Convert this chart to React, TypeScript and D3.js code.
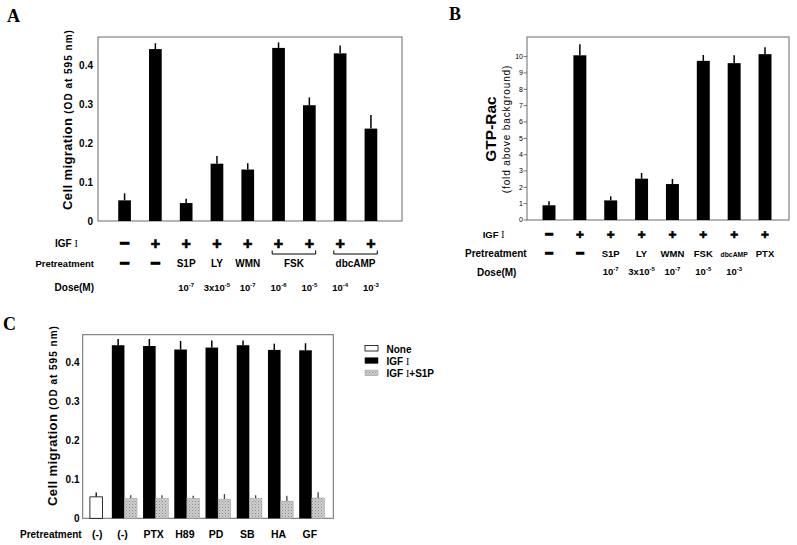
import React from 'react';
import * as d3 from 'd3';

const FONT = '"Liberation Sans", Arial, Helvetica, sans-serif';

// ---------- Panel A ----------
const aValues = [0.053, 0.441, 0.046, 0.147, 0.132, 0.444, 0.297, 0.43, 0.237];
const aErrors = [0.018, 0.015, 0.011, 0.02, 0.016, 0.014, 0.02, 0.02, 0.035];
const aIgf = ['−', '+', '+', '+', '+', '+', '+', '+', '+'];
const aPretreat = ['−', '−', 'S1P', 'LY', 'WMN', '', '', '', ''];
const aGroups = [
  { label: 'FSK', from: 5, to: 6 },
  { label: 'dbcAMP', from: 7, to: 8 },
];
const aDoseBase = ['', '', '10', '3x10', '10', '10', '10', '10', '10'];
const aDoseExp = ['', '', '-7', '-5', '-7', '-6', '-5', '-4', '-3'];
const aTicks = [0, 0.1, 0.2, 0.3, 0.4];
const aTickLabels = ['0', '0.1', '0.2', '0.3', '0.4'];

// ---------- Panel B ----------
const bValues = [0.9, 10.08, 1.2, 2.53, 2.2, 9.74, 9.6, 10.15];
const bErrors = [0.24, 0.68, 0.25, 0.35, 0.31, 0.36, 0.48, 0.43];
const bIgf = ['−', '+', '+', '+', '+', '+', '+', '+'];
const bPretreat = ['−', '−', 'S1P', 'LY', 'WMN', 'FSK', 'dbcAMP', 'PTX'];
const bDoseBase = ['', '', '10', '3x10', '10', '10', '10', ''];
const bDoseExp = ['', '', '-7', '-5', '-7', '-5', '-3', ''];
const bTicks = [0, 1, 2, 3, 4, 5, 6, 7, 8, 9, 10];

// ---------- Panel C ----------
const cGroups = ['(-)', '(-)', 'PTX', 'H89', 'PD', 'SB', 'HA', 'GF'];
const cNone = [0.055, null, null, null, null, null, null, null];
const cNoneErr = [0.011, null, null, null, null, null, null, null];
const cIgf = [null, 0.444, 0.442, 0.433, 0.438, 0.444, 0.432, 0.431];
const cIgfErr = [null, 0.016, 0.018, 0.022, 0.018, 0.012, 0.016, 0.018];
const cS1p = [null, 0.051, 0.051, 0.051, 0.049, 0.051, 0.044, 0.052];
const cS1pErr = [null, 0.008, 0.008, 0.007, 0.013, 0.008, 0.014, 0.015];
const cTicks = [0, 0.1, 0.2, 0.3, 0.4];
const cTickLabels = ['0', '0.1', '0.2', '0.3', '0.4'];
const legendItems = ['None', 'IGF I', 'IGF I+S1P'];

const SERIF = "'Liberation Serif', 'DejaVu Serif', serif";

function IgfText({ suffix = '' }: { suffix?: string }) {
  return (
    <>
      <tspan>IGF </tspan>
      <tspan fontFamily={SERIF} fontWeight="normal">I</tspan>
      {suffix ? <tspan>{suffix}</tspan> : null}
    </>
  );
}

function Sign({ x, y, s, size }: { x: number; y: number; s: string; size: number }) {
  return (
    <text x={x} y={y} textAnchor="middle" fontSize={s === '−' ? size * 1.05 : size}
      stroke="#000" strokeWidth={s === '−' ? 1.3 : 0.7}>{s}</text>
  );
}

export default function App() {
  // Panel A geometry
  const aL = 98, aR = 402, aT = 37, aB = 221;
  const yA = d3.scaleLinear().domain([0, 0.472]).range([aB, aT]);
  const xA = d3.scaleBand<number>().domain(d3.range(aValues.length)).range([aL, aR])
    .paddingInner(0.588).paddingOuter(0.73).align(0.45);
  const bwA = xA.bandwidth();

  // Panel B geometry
  const bL = 527, bR = 789, bT = 37, bB = 220;
  const yB = d3.scaleLinear().domain([0, 11.2]).range([bB, bT]);
  const xB = d3.scaleBand<number>().domain(d3.range(bValues.length)).range([bL, bR])
    .paddingInner(0.58).paddingOuter(0.535).align(0.47);
  const bwB = xB.bandwidth();

  // Panel C geometry
  const cL = 82.7, cR = 333.3, cT = 334.7, cB = 518.3;
  const yC = d3.scaleLinear().domain([0, 0.471]).range([cB, cT]);
  const xC = d3.scalePoint<number>().domain(d3.range(cGroups.length)).range([cL + 10.5, cR - 21.5]);
  const bwC = 12.6;

  const frameStroke = '#6a6a6a';

  return (
    <svg width={797} height={545} style={{ position: 'absolute', left: 0, top: 0, background: '#fff' }}
      fontFamily={FONT} fontWeight="bold">
      <defs>
        <pattern id="dots" width={3} height={3} patternUnits="userSpaceOnUse">
          <rect width={3} height={3} fill="#cfcfcf" />
          <rect x={0} y={0} width={1} height={1} fill="#8a8a8a" />
          <rect x={1.5} y={1.5} width={1} height={1} fill="#9c9c9c" />
        </pattern>
      </defs>

      {/* ================= Panel A ================= */}
      <text x={7} y={22} fontFamily={SERIF} fontSize={18} fontWeight="bold">A</text>
      <rect x={aL} y={aT} width={aR - aL} height={aB - aT} fill="none" stroke={frameStroke} strokeWidth={1} />
      {aTicks.map((t, i) => (
        <text key={i} x={93} y={yA(t)} dy="0.35em" textAnchor="end" fontSize={10}>{aTickLabels[i]}</text>
      ))}
      <text transform={`translate(72,210) rotate(-90)`} textAnchor="start">
        <tspan fontSize={13} letterSpacing={0.4}>Cell migration</tspan>
        <tspan fontSize={10} letterSpacing={1} dx={4}>(OD at 595 nm)</tspan>
      </text>
      {aValues.map((v, i) => (
        <g key={i}>
          <line x1={xA(i)! + bwA / 2} x2={xA(i)! + bwA / 2} y1={yA(v)} y2={yA(v + aErrors[i])} stroke="#000" strokeWidth={1.5} />
          <rect x={xA(i)!} y={yA(v)} width={bwA} height={aB - yA(v)} fill="#000" />
        </g>
      ))}
      {/* rows */}
      <text x={55} y={247} fontSize={10}><IgfText /></text>
      <text x={94} y={267} fontSize={9.5} textAnchor="end">Pretreatment</text>
      <text x={94} y={291} fontSize={10} textAnchor="end">Dose(M)</text>
      {aIgf.map((s, i) => (
        <Sign key={i} x={xA(i)! + bwA / 2} y={248.5} s={s} size={16} />
      ))}
      {aPretreat.map((s, i) => s ? (
        s === '−'
          ? <Sign key={i} x={xA(i)! + bwA / 2} y={268.5} s={s} size={16} />
          : <text key={i} x={xA(i)! + bwA / 2} y={267} textAnchor="middle" fontSize={10}>{s}</text>
      ) : null)}
      {aGroups.map((g, i) => {
        const x1 = xA(g.from)!, x2 = xA(g.to)! + bwA;
        return (
          <g key={i}>
            <path d={`M${x1},250.5V254H${x2}V250.5`} fill="none" stroke="#000" strokeWidth={1} />
            <text x={(x1 + x2) / 2} y={267} textAnchor="middle" fontSize={10}>{g.label}</text>
          </g>
        );
      })}
      {aDoseBase.map((b, i) => b ? (
        <text key={i} x={xA(i)! + bwA / 2} y={291} textAnchor="middle" fontSize={9.5}>
          <tspan>{b}</tspan><tspan dy={-4} fontSize={6}>{aDoseExp[i]}</tspan>
        </text>
      ) : null)}

      {/* ================= Panel B ================= */}
      <text x={449} y={20} fontFamily={SERIF} fontSize={18} fontWeight="bold">B</text>
      <rect x={bL} y={bT} width={bR - bL} height={bB - bT} fill="none" stroke={frameStroke} strokeWidth={1} />
      {bTicks.map((t, i) => (
        <g key={i}>
          <line x1={bL - 3.5} x2={bL} y1={yB(t)} y2={yB(t)} stroke="#555" strokeWidth={0.8} />
          <text x={bL - 4} y={yB(t)} dy="0.35em" textAnchor="end" fontSize={7} fontWeight="normal">{t}</text>
        </g>
      ))}
      <text transform={`translate(496,129) rotate(-90)`} textAnchor="middle" fontSize={15.5}>GTP-Rac</text>
      <text transform={`translate(510,129) rotate(-90)`} textAnchor="middle" fontSize={10} fontWeight="normal" letterSpacing={0.9}>(fold above background)</text>
      {bValues.map((v, i) => (
        <g key={i}>
          <line x1={xB(i)! + bwB / 2} x2={xB(i)! + bwB / 2} y1={yB(v)} y2={yB(v + bErrors[i])} stroke="#000" strokeWidth={1.5} />
          <rect x={xB(i)!} y={yB(v)} width={bwB} height={bB - yB(v)} fill="#000" />
        </g>
      ))}
      <text x={482.7} y={238} fontSize={9.5}><IgfText /></text>
      <text x={465} y={257} fontSize={10}>Pretreatment</text>
      <text x={477} y={276} fontSize={10}>Dose(M)</text>
      {bIgf.map((s, i) => (
        <Sign key={i} x={xB(i)! + bwB / 2} y={239} s={s} size={13.5} />
      ))}
      {bPretreat.map((s, i) => (
        s === '−'
          ? <Sign key={i} x={xB(i)! + bwB / 2} y={258} s={s} size={13.5} />
          : <text key={i} x={xB(i)! + bwB / 2} y={257} textAnchor="middle"
            fontSize={s === 'dbcAMP' ? 6.8 : 9.5}>{s}</text>
      ))}
      {bDoseBase.map((b, i) => b ? (
        <text key={i} x={xB(i)! + bwB / 2} y={275} textAnchor="middle" fontSize={9.5}>
          <tspan>{b}</tspan><tspan dy={-4} fontSize={6}>{bDoseExp[i]}</tspan>
        </text>
      ) : null)}

      {/* ================= Panel C ================= */}
      <text x={3} y={330} fontFamily={SERIF} fontSize={18} fontWeight="bold">C</text>
      <rect x={cL} y={cT} width={cR - cL} height={cB - cT} fill="none" stroke={frameStroke} strokeWidth={1} />
      {cTicks.map((t, i) => (
        <text key={i} x={79.5} y={yC(t)} dy="0.35em" textAnchor="end" fontSize={10}>{cTickLabels[i]}</text>
      ))}
      <text transform={`translate(57,506) rotate(-90)`} textAnchor="start">
        <tspan fontSize={13} letterSpacing={0.4}>Cell migration</tspan>
        <tspan fontSize={10} letterSpacing={1} dx={4}>(OD at 595 nm)</tspan>
      </text>
      {cGroups.map((g, i) => {
        const cx = xC(i)!;
        const parts = [];
        if (cNone[i] != null) {
          const v = cNone[i] as number;
          const x = cx - bwC / 2 + 3;
          parts.push(
            <g key="n">
              <line x1={x + bwC / 2} x2={x + bwC / 2} y1={yC(v)} y2={yC(v + (cNoneErr[i] as number))} stroke="#000" strokeWidth={1.3} />
              <rect x={x} y={yC(v)} width={bwC} height={cB - yC(v)} fill="#fff" stroke="#000" strokeWidth={0.8} />
            </g>
          );
        }
        if (cIgf[i] != null) {
          const v = cIgf[i] as number;
          const x = cx - bwC;
          parts.push(
            <g key="i">
              <line x1={x + bwC / 2} x2={x + bwC / 2} y1={yC(v)} y2={yC(v + (cIgfErr[i] as number))} stroke="#000" strokeWidth={1.5} />
              <rect x={x} y={yC(v)} width={bwC} height={cB - yC(v)} fill="#000" />
            </g>
          );
        }
        if (cS1p[i] != null) {
          const v = cS1p[i] as number;
          const x = cx;
          parts.push(
            <g key="s">
              <line x1={x + bwC / 2} x2={x + bwC / 2} y1={yC(v)} y2={yC(v + (cS1pErr[i] as number))} stroke="#444" strokeWidth={1.3} />
              <rect x={x} y={yC(v)} width={bwC} height={cB - yC(v)} fill="url(#dots)" stroke="#999" strokeWidth={0.5} />
            </g>
          );
        }
        return (
          <g key={i}>
            {parts}
            <text x={i === 0 ? cx + 4 : cx - 2} y={537.5} textAnchor="middle" fontSize={10.5}>{g}</text>
          </g>
        );
      })}
      <text x={20} y={537.5} fontSize={10}>Pretreatment</text>
      {/* legend */}
      {legendItems.map((l, i) => (
        <g key={i}>
          <rect x={365} y={345.5 + i * 12.3} width={13} height={5.5}
            fill={i === 0 ? '#fff' : i === 1 ? '#000' : 'url(#dots)'}
            stroke={i === 2 ? '#999' : '#000'} strokeWidth={i === 0 ? 0.8 : 0.5} />
          <text x={386.5} y={352.5 + i * 12.3} fontSize={10}>
            {i === 0 ? l : i === 1 ? <IgfText /> : <IgfText suffix="+S1P" />}
          </text>
        </g>
      ))}
    </svg>
  );
}
